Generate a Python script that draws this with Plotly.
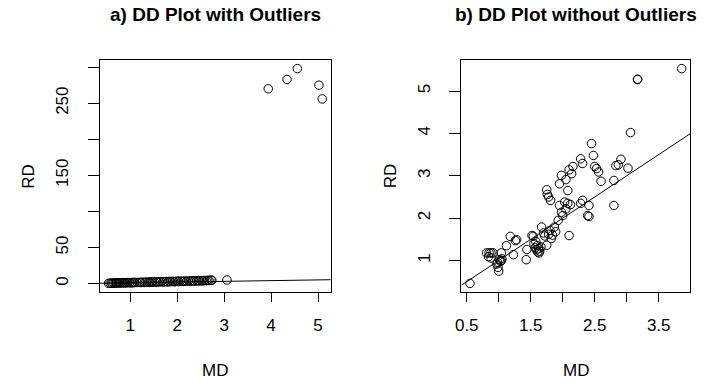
import plotly.graph_objects as go

# ---- data: panel a (with outliers) ----
left_md = [0.54, 0.57, 0.60, 0.62, 0.65, 0.68, 0.70, 0.72, 0.75, 0.78, 0.80, 0.83, 0.85, 0.88,
           0.90, 0.93, 0.95, 0.98, 1.00, 1.03, 1.05, 1.08, 1.10, 1.15, 1.20, 1.23, 1.26, 1.30,
           1.33, 1.36, 1.40, 1.42, 1.45, 1.48, 1.52, 1.55, 1.58, 1.62, 1.65, 1.70, 1.73, 1.77,
           1.80, 1.83, 1.86, 1.90, 1.93, 1.96, 2.00, 2.03, 2.06, 2.10, 2.13, 2.16, 2.20, 2.24,
           2.28, 2.32, 2.35, 2.38, 2.42, 2.45, 2.48, 2.52, 2.55, 2.58, 2.62, 2.65, 2.68, 2.72,
           2.74, 3.06,
           3.94, 4.34, 4.56, 5.02, 5.09]
left_rd = [0.15, 0.4, 0.6, 0.3, 0.8, 0.5, 0.9, 0.7, 1.0, 0.6, 1.1, 0.9, 1.3, 0.8,
           1.2, 1.0, 1.4, 1.1, 1.3, 0.9, 1.5, 1.2, 1.6, 1.4, 1.7, 1.3, 1.9, 1.5,
           1.8, 2.0, 1.6, 2.2, 1.9, 2.1, 1.7, 2.4, 2.0, 2.3, 2.6, 2.1, 2.5, 2.8,
           2.2, 2.9, 2.6, 3.1, 2.4, 2.8, 3.2, 2.7, 3.4, 3.0, 2.9, 3.5, 3.1, 3.7,
           3.3, 3.6, 3.9, 3.2, 3.8, 4.1, 3.5, 4.0, 3.7, 4.3, 3.9, 4.5, 4.2, 4.8,
           4.4, 4.9,
           270, 283, 298, 275, 256]

# ---- data: panel b (without outliers) ----
right_md = [0.55, 0.81, 0.85, 0.88, 0.91, 0.84, 0.88, 0.98, 1.01, 1.04, 1.05, 0.99, 1.00, 0.97,
            1.03, 1.04, 1.12, 1.18, 1.26, 1.28, 1.23, 1.44, 1.43, 1.52, 1.54, 1.55, 1.57, 1.58,
            1.59, 1.60, 1.61, 1.62, 1.63, 1.64, 1.66, 1.67, 1.70, 1.72, 1.75, 1.78, 1.80, 1.82,
            1.84, 1.87, 1.89, 1.75, 1.76, 1.78, 1.81, 1.93, 1.95, 1.98, 2.00, 2.03, 2.05, 2.08,
            2.12, 2.10, 1.95, 1.98, 2.05, 2.08, 2.10, 2.14, 2.16, 2.28, 2.31, 2.28, 2.31, 2.39,
            2.41, 2.41, 2.45, 2.48, 2.50, 2.53, 2.56, 2.60, 2.80, 2.80, 2.83, 2.87, 2.91, 3.02,
            3.06, 3.17, 3.17, 3.86]
right_rd = [0.46, 1.18, 1.18, 1.18, 1.18, 1.09, 1.06, 0.96, 1.02, 1.00, 1.04, 0.84, 0.75, 0.92,
            0.98, 1.18, 1.35, 1.57, 1.47, 1.49, 1.14, 1.26, 1.02, 1.59, 1.57, 1.40, 1.30, 1.45,
            1.25, 1.35, 1.20, 1.28, 1.18, 1.22, 1.32, 1.79, 1.65, 1.58, 1.36, 1.62, 1.71, 1.52,
            1.60, 1.79, 1.68, 2.67, 2.56, 2.50, 2.42, 1.95, 2.30, 2.14, 2.06, 2.38, 2.22, 2.35,
            2.32, 1.59, 2.81, 3.01, 2.91, 2.65, 3.14, 3.05, 3.22, 3.40, 3.29, 2.35, 2.42, 2.06,
            2.04, 2.30, 3.76, 3.48, 3.22, 3.17, 3.09, 2.87, 2.89, 2.30, 3.24, 3.26, 3.39, 3.18,
            4.02, 5.27, 5.28, 5.53]

left_xticks = [1, 2, 3, 4, 5]
left_yticks = [0, 50, 100, 150, 200, 250, 300]
left_ylabels = ["0", "50", "", "150", "", "250", ""]
right_xticks = [0.5, 1.0, 1.5, 2.0, 2.5, 3.0, 3.5]
right_xlabels = ["0.5", "", "1.5", "", "2.5", "", "3.5"]
right_yticks = [1, 2, 3, 4, 5]

titles = ["a) DD Plot with Outliers", "b) DD Plot without Outliers"]


def rrange(v):
    lo, hi = min(v), max(v)
    d = hi - lo
    return [lo - 0.04 * d, hi + 0.04 * d]


W, H = 709, 383
FONT = "Liberation Sans, Arial, sans-serif"
TICKF = 17
LABF = 17

lxr, lyr = rrange(left_md), rrange(left_rd)
rxr, ryr = rrange(right_md), rrange(right_rd)

fig = go.Figure()
mk = dict(symbol="circle-open", size=8.5, color="black", line=dict(width=1, color="black"))
fig.add_trace(go.Scatter(x=left_md, y=left_rd, mode="markers", marker=mk, xaxis="x", yaxis="y",
                         showlegend=False, cliponaxis=False, hoverinfo="skip"))
fig.add_trace(go.Scatter(x=lxr, y=lxr, mode="lines", line=dict(color="black", width=1),
                         xaxis="x", yaxis="y", showlegend=False, hoverinfo="skip"))
fig.add_trace(go.Scatter(x=right_md, y=right_rd, mode="markers", marker=mk, xaxis="x2", yaxis="y2",
                         showlegend=False, cliponaxis=False, hoverinfo="skip"))
fig.add_trace(go.Scatter(x=rxr, y=rxr, mode="lines", line=dict(color="black", width=1),
                         xaxis="x2", yaxis="y2", showlegend=False, hoverinfo="skip"))

# pixel geometry of the reference
L1, R1, L2, R2 = 94, 327, 459, 690
TOP, BOT = 60, 292


def px(x):
    return x / W


def py(y):
    return 1 - y / H


ax_common = dict(showgrid=False, zeroline=False, showline=True, mirror=True, linecolor="black",
                 linewidth=1, ticks="outside", tickcolor="black", tickwidth=1,
                 tickfont=dict(family=FONT, size=TICKF, color="black"))

fig.update_layout(
    width=W, height=H, margin=dict(l=0, r=0, t=0, b=0),
    paper_bgcolor="white", plot_bgcolor="white",
    xaxis=dict(domain=[px(L1), px(R1)], range=lxr, tickmode="array", tickvals=left_xticks,
               ticklen=9, ticklabelstandoff=9, anchor="y", **ax_common),
    yaxis=dict(domain=[py(BOT), py(TOP)], range=lyr, tickmode="array", tickvals=left_yticks,
               ticktext=left_ylabels, tickangle=-90, ticklen=11, ticklabelstandoff=13,
               anchor="x", **ax_common),
    xaxis2=dict(domain=[px(L2), px(R2)], range=rxr, tickmode="array", tickvals=right_xticks,
                ticktext=right_xlabels, ticklen=9, ticklabelstandoff=9, anchor="y2", **ax_common),
    yaxis2=dict(domain=[py(BOT), py(TOP)], range=ryr, tickmode="array", tickvals=right_yticks,
                tickangle=-90, ticklen=11, ticklabelstandoff=13, anchor="x2", **ax_common),
)

anns = []
for t, (a, b) in zip(titles, [(L1, R1), (L2, R2)]):
    anns.append(dict(text="<b>" + t + "</b>", x=px((a + b) / 2), y=py(15), xref="paper", yref="paper",
                     showarrow=False, xanchor="center", yanchor="middle",
                     font=dict(family=FONT, size=19, color="black")))
    anns.append(dict(text="MD", x=px((a + b) / 2), y=py(370), xref="paper", yref="paper",
                     showarrow=False, xanchor="center", yanchor="middle",
                     font=dict(family=FONT, size=LABF, color="black")))
for xpos in [21, 387]:
    anns.append(dict(text="RD", x=px(xpos), y=py((TOP + BOT) / 2), xref="paper", yref="paper",
                     showarrow=False, xanchor="center", yanchor="middle", textangle=-90,
                     font=dict(family=FONT, size=LABF, color="black")))
fig.update_layout(annotations=anns)

# remove the default 8px page margin so the 709x383 figure fills the window
fig.write_html("out.html", config={"displayModeBar": False, "staticPlot": True},
               post_script="document.body.style.margin='0';document.body.style.overflow='hidden';")
